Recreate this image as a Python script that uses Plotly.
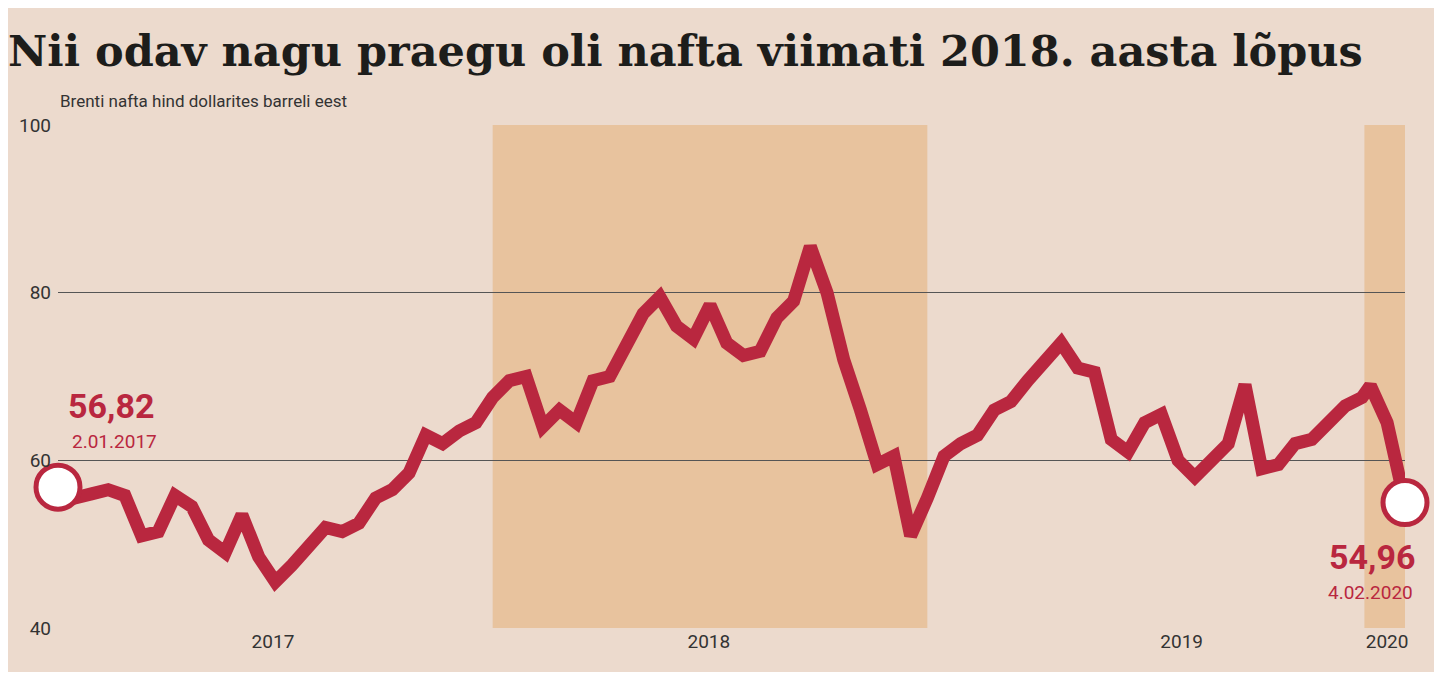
import pandas as pd
import plotly.graph_objects as go

# biweekly Brent prices, from 2 Jan 2017
biweekly = [
    56.8, 55.5, 56.0, 56.5, 55.8, 51.0, 51.5, 55.8, 54.5, 50.5, 49.0, 53.5, 48.5,
    45.5, 47.5, 49.5, 52.0, 51.5, 52.5, 55.5, 56.5, 58.5, 63.0, 62.0, 63.5, 64.5,
    67.5, 69.5, 70.0, 64.0, 66.0, 64.5, 69.5, 70.0, 73.5, 77.5, 79.5, 76.0, 74.5,
    78.5, 74.0, 72.5, 73.0, 77.0, 79.0, 85.5, 80.0, 72.0, 66.0, 59.5, 60.5, 51.0,
    55.5, 60.5, 62.0, 63.0, 66.0, 67.0, 69.5, 71.5, 74.0, 71.0, 70.5, 62.5, 61.0,
    64.5, 65.5, 60.0, 58.0, 60.0, 62.0, 69.0, 59.0, 59.5, 62.0, 62.5, 64.5, 66.5,
]
dates = list(pd.date_range("2017-01-02", periods=len(biweekly), freq="14D"))
dates += list(pd.to_datetime(["2019-12-30", "2020-01-06", "2020-01-20", "2020-01-27", "2020-02-04"]))
prices = biweekly + [67.5, 68.9, 64.5, 59.5, 54.96]

bands = [("2018-01-01", "2018-12-31"), ("2020-01-01", "2020-02-04")]
year_ticks = ["2017-07-01", "2018-07-01", "2019-08-01", "2020-01-20"]
year_labels = ["2017", "2018", "2019", "2020"]

RED = "#b9273f"
BG = "#ecdacd"

fig = go.Figure()
for x0, x1 in bands:
    fig.add_vrect(x0=x0, x1=x1, fillcolor="#e8c39e", opacity=1, line_width=0, layer="below")

fig.add_trace(go.Scatter(x=dates, y=prices, mode="lines",
                         line=dict(color=RED, width=13), hoverinfo="x+y"))
fig.add_trace(go.Scatter(x=[dates[0], dates[-1]], y=[prices[0], prices[-1]], mode="markers",
                         marker=dict(size=44, color="white", line=dict(color=RED, width=5)),
                         cliponaxis=False))

fig.add_annotation(x=dates[0], y=66.5, text="<b>56,82</b>", showarrow=False, xanchor="left",
                   xshift=8, font=dict(size=34, color=RED, family="Roboto"))
fig.add_annotation(x=dates[0], y=62.2, text="2.01.2017", showarrow=False, xanchor="left",
                   xshift=12, font=dict(size=19, color=RED, family="Roboto"))
fig.add_annotation(x=dates[-1], y=48.5, text="<b>54,96</b>", showarrow=False, xanchor="right",
                   xshift=12, font=dict(size=34, color=RED, family="Roboto"))
fig.add_annotation(x=dates[-1], y=44.2, text="4.02.2020", showarrow=False, xanchor="right",
                   xshift=10, font=dict(size=19, color=RED, family="Roboto"))

fig.update_layout(
    width=1426, height=664,
    paper_bgcolor=BG, plot_bgcolor=BG,
    margin=dict(l=50, r=29, t=117, b=44),
    showlegend=False,
    title=dict(text="<b>Nii odav nagu praegu oli nafta viimati 2018. aasta lõpus</b>",
               x=0.0, xanchor="left", y=0.935, yanchor="middle",
               font=dict(family="DejaVu Serif", size=43, color="#1d1d1b")),
)
fig.add_annotation(text="Brenti nafta hind dollarites barreli eest", xref="paper", yref="paper",
                   x=0.0, y=1.0, yshift=12, xanchor="left", yanchor="bottom", showarrow=False,
                   font=dict(family="Roboto", size=17, color="#333"))
fig.update_xaxes(range=[dates[0], dates[-1]], tickvals=year_ticks, ticktext=year_labels,
                 showgrid=False, ticks="", tickfont=dict(family="Roboto", size=19, color="#333"),
                 showline=False, zeroline=False)
fig.update_yaxes(range=[40, 100], tickvals=[40, 60, 80, 100], gridcolor="#555", gridwidth=1,
                 tickfont=dict(family="Roboto", size=19, color="#333"), zeroline=False,
                 ticklabelstandoff=6)

fig.write_html("out.html")
